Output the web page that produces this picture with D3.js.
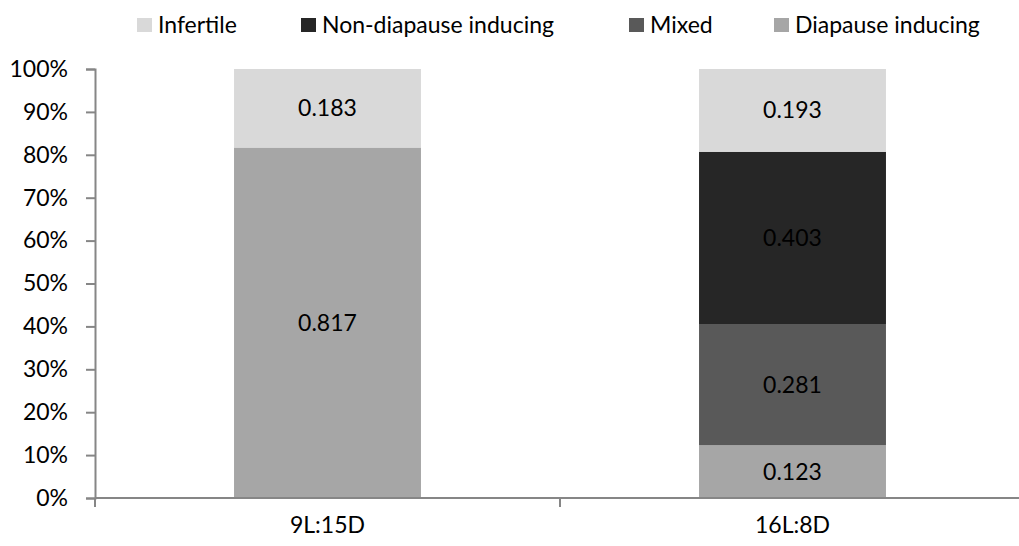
<!DOCTYPE html>
<html lang="en">
<head>
<meta charset="UTF-8">
<title>Stacked bars</title>
<style>
  body { margin: 0; background: #fff; }
  svg text { font-family: Lato, "Open Sans", sans-serif; fill: #000; }
</style>
</head>
<body>
<svg width="1019" height="546"></svg>
<script src="https://d3js.org/d3.v7.min.js"></script>
<script>
const categories = ["9L:15D", "16L:8D"];
const seriesNames = ["Diapause inducing", "Mixed", "Non-diapause inducing", "Infertile"];
const diapause = [0.817, 0.123];
const mixed = [0, 0.281];
const nonDiapause = [0, 0.403];
const infertile = [0.183, 0.193];
const legendOrder = ["Infertile", "Non-diapause inducing", "Mixed", "Diapause inducing"];
const colors = ["#a6a6a6", "#595959", "#262626", "#d9d9d9"];
const yTicks = [0, 0.1, 0.2, 0.3, 0.4, 0.5, 0.6, 0.7, 0.8, 0.9, 1];

const table = categories.map((c, i) => ({
  cat: c,
  "Diapause inducing": diapause[i],
  "Mixed": mixed[i],
  "Non-diapause inducing": nonDiapause[i],
  "Infertile": infertile[i]
}));

const fs = 23;
const svg = d3.select("svg");
const x = d3.scaleBand().domain(categories).range([95, 1025]);
const y = d3.scaleLinear().domain([0, 1]).range([498, 69]);
const color = d3.scaleOrdinal().domain(seriesNames).range(colors);
const barW = x.bandwidth() * 0.402;

const stack = d3.stack().keys(seriesNames)(table);

const layer = svg.selectAll("g.layer").data(stack).join("g")
  .attr("class", "layer")
  .attr("fill", d => color(d.key));

layer.selectAll("rect").data(d => d.filter(p => p[1] - p[0] > 0)).join("rect")
  .attr("x", d => x(d.data.cat) + (x.bandwidth() - barW) / 2)
  .attr("width", barW)
  .attr("y", d => y(d[1]))
  .attr("height", d => y(d[0]) - y(d[1]));

// value labels
layer.selectAll("text").data(d => d.filter(p => p[1] - p[0] > 0)).join("text")
  .attr("x", d => x(d.data.cat) + x.bandwidth() / 2)
  .attr("y", d => (y(d[0]) + y(d[1])) / 2)
  .attr("dy", "0.35em")
  .attr("text-anchor", "middle")
  .attr("font-size", fs)
  .style("fill", "#000")
  .text(d => (d[1] - d[0]).toFixed(3));

// y axis
const yAxis = svg.append("g")
  .attr("transform", "translate(95,0)")
  .call(d3.axisLeft(y).tickValues(yTicks).tickFormat(d3.format(".0%")).tickSize(9).tickPadding(18));
yAxis.select(".domain").attr("stroke", "#868686").attr("stroke-width", 2);
yAxis.selectAll(".tick line").attr("stroke", "#868686").attr("stroke-width", 2);
yAxis.selectAll(".tick text").attr("font-size", fs).attr("font-family", "Lato, sans-serif");

// x axis
const xAxis = svg.append("g").attr("transform", "translate(0,498)");
xAxis.append("line").attr("x1", 95).attr("x2", 1025).attr("stroke", "#868686").attr("stroke-width", 2);
xAxis.selectAll("line.tk").data([...categories.map(c => x(c)), 1025]).join("line")
  .attr("class", "tk")
  .attr("x1", d => d).attr("x2", d => d)
  .attr("y1", 0).attr("y2", 9)
  .attr("stroke", "#868686").attr("stroke-width", 2);
xAxis.selectAll("text").data(categories).join("text")
  .attr("x", d => x(d) + x.bandwidth() / 2)
  .attr("y", 27)
  .attr("dy", "0.35em")
  .attr("text-anchor", "middle")
  .attr("font-size", fs)
  .text(d => d);

// legend
const legendX = [137, 301, 629, 774];
const lg = svg.selectAll("g.lg").data(legendOrder).join("g")
  .attr("class", "lg")
  .attr("transform", (d, i) => `translate(${legendX[i]},25)`);
lg.append("rect").attr("x", 0).attr("y", -7).attr("width", 15).attr("height", 14)
  .attr("fill", d => color(d));
lg.append("text").attr("x", 21).attr("dy", "0.35em").attr("font-size", fs).text(d => d);
</script>
</body>
</html>
